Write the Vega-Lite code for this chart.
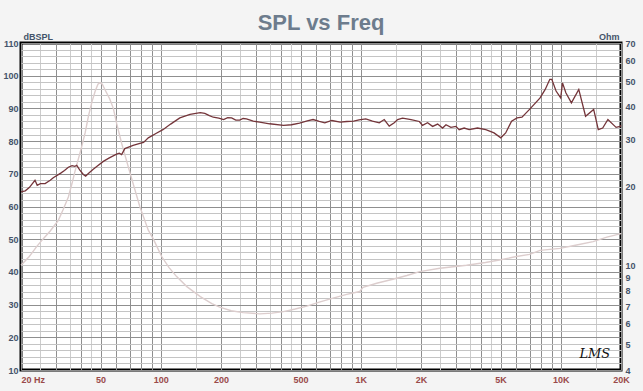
{
  "$schema": "https://vega.github.io/schema/vega-lite/v6.json",
  "width": 600,
  "height": 327,
  "autosize": "none",
  "padding": {"left": 21, "top": 43, "right": 22, "bottom": 21},
  "background": "#f4f4f4",
  "title": {"text": "SPL vs Freq", "frame": "group", "anchor": "middle", "offset": 2, "dy": 22, "baseline": "alphabetic", "fontSize": 22, "font": "Liberation Sans", "fontWeight": "bold", "color": "#6d7c8d"},
  "config": {
    "view": {"fill": "white", "stroke": "black", "strokeWidth": 3},
    "axis": {"labelFont": "Liberation Sans", "titleFont": "Liberation Sans", "ticks": false, "domain": false, "labelOverlap": false, "labelFlush": false}
  },
  "datasets": {
    "spl": [
      {"freq": 20, "db": 64.5}, {"freq": 21, "db": 64.8}, {"freq": 22, "db": 65.8}, {"freq": 23.5, "db": 68.0}, {"freq": 24.1, "db": 66.5},
      {"freq": 25, "db": 67.0}, {"freq": 26.4, "db": 67.0}, {"freq": 28, "db": 68.0}, {"freq": 29, "db": 68.8}, {"freq": 31.6, "db": 70.2},
      {"freq": 33, "db": 71.0}, {"freq": 34.5, "db": 72.0}, {"freq": 36, "db": 72.5}, {"freq": 37.2, "db": 72.3}, {"freq": 38, "db": 72.6},
      {"freq": 39.3, "db": 71.2}, {"freq": 41, "db": 69.8}, {"freq": 42.1, "db": 69.3}, {"freq": 44, "db": 70.4}, {"freq": 45.8, "db": 71.3},
      {"freq": 48, "db": 72.3}, {"freq": 51.6, "db": 73.8}, {"freq": 55, "db": 74.8}, {"freq": 60.1, "db": 76.0}, {"freq": 62, "db": 76.3},
      {"freq": 63.7, "db": 75.9}, {"freq": 66.1, "db": 77.7}, {"freq": 72.7, "db": 78.7}, {"freq": 78.6, "db": 79.3}, {"freq": 82, "db": 79.6},
      {"freq": 86.6, "db": 81.0}, {"freq": 95, "db": 82.4}, {"freq": 102.5, "db": 83.5}, {"freq": 112, "db": 85.2}, {"freq": 124.5, "db": 87.1},
      {"freq": 140, "db": 88.2}, {"freq": 157.6, "db": 88.7}, {"freq": 166, "db": 88.5}, {"freq": 175, "db": 87.8}, {"freq": 183, "db": 87.3},
      {"freq": 195, "db": 87.0}, {"freq": 206, "db": 86.6}, {"freq": 216, "db": 87.2}, {"freq": 226, "db": 87.1}, {"freq": 237, "db": 86.4},
      {"freq": 248, "db": 86.4}, {"freq": 258, "db": 86.9}, {"freq": 268, "db": 86.8}, {"freq": 290, "db": 86.1}, {"freq": 312, "db": 85.8},
      {"freq": 350, "db": 85.3}, {"freq": 411, "db": 84.8}, {"freq": 450, "db": 85.0}, {"freq": 494, "db": 85.5}, {"freq": 540, "db": 86.2},
      {"freq": 577, "db": 86.6}, {"freq": 620, "db": 86.0}, {"freq": 661, "db": 85.6}, {"freq": 716, "db": 86.3}, {"freq": 789, "db": 85.8},
      {"freq": 850, "db": 86.0}, {"freq": 921, "db": 86.1}, {"freq": 980, "db": 86.5}, {"freq": 1059, "db": 86.8}, {"freq": 1144, "db": 86.1},
      {"freq": 1237, "db": 85.6}, {"freq": 1310, "db": 86.6}, {"freq": 1387, "db": 84.6}, {"freq": 1470, "db": 85.6}, {"freq": 1528, "db": 86.6},
      {"freq": 1617, "db": 87.0}, {"freq": 1700, "db": 86.8}, {"freq": 1782, "db": 86.6}, {"freq": 1962, "db": 86.0}, {"freq": 2035, "db": 84.8},
      {"freq": 2157, "db": 85.6}, {"freq": 2286, "db": 84.5}, {"freq": 2422, "db": 85.2}, {"freq": 2565, "db": 84.0}, {"freq": 2666, "db": 85.0},
      {"freq": 2822, "db": 84.2}, {"freq": 2990, "db": 84.5}, {"freq": 3103, "db": 83.5}, {"freq": 3287, "db": 84.0}, {"freq": 3482, "db": 83.5},
      {"freq": 3832, "db": 84.0}, {"freq": 4217, "db": 83.5}, {"freq": 4637, "db": 82.5}, {"freq": 5012, "db": 81.0}, {"freq": 5301, "db": 82.5},
      {"freq": 5675, "db": 86.1}, {"freq": 6044, "db": 87.1}, {"freq": 6397, "db": 87.3}, {"freq": 6978, "db": 89.7}, {"freq": 7879, "db": 93.2},
      {"freq": 8357, "db": 95.8}, {"freq": 8813, "db": 98.9}, {"freq": 9013, "db": 98.9}, {"freq": 9471, "db": 95.3}, {"freq": 9990, "db": 93.2},
      {"freq": 10200, "db": 97.8}, {"freq": 10600, "db": 94.8}, {"freq": 11300, "db": 91.7}, {"freq": 12300, "db": 95.8}, {"freq": 13300, "db": 87.6},
      {"freq": 14600, "db": 89.7}, {"freq": 15400, "db": 83.5}, {"freq": 16200, "db": 84.0}, {"freq": 17200, "db": 86.6}, {"freq": 18900, "db": 84.2},
      {"freq": 19800, "db": 84.5}, {"freq": 20000, "db": 84.8}
    ],
    "imp": [
      {"freq": 20, "ohm": 10.0}, {"freq": 22, "ohm": 10.8}, {"freq": 24, "ohm": 11.8}, {"freq": 25.8, "ohm": 12.6}, {"freq": 28, "ohm": 13.5},
      {"freq": 30.7, "ohm": 14.8}, {"freq": 32.5, "ohm": 16.3}, {"freq": 34.5, "ohm": 18.2}, {"freq": 36, "ohm": 20.5}, {"freq": 37.2, "ohm": 22.7},
      {"freq": 40.2, "ohm": 28.2}, {"freq": 41.9, "ohm": 32}, {"freq": 43.5, "ohm": 37}, {"freq": 45.3, "ohm": 41.9}, {"freq": 47, "ohm": 46},
      {"freq": 48.5, "ohm": 48.8}, {"freq": 49.7, "ohm": 49.5}, {"freq": 51, "ohm": 48.8}, {"freq": 53, "ohm": 46}, {"freq": 55.5, "ohm": 43},
      {"freq": 57.9, "ohm": 39.5}, {"freq": 60.1, "ohm": 34.7}, {"freq": 63.7, "ohm": 29.1}, {"freq": 70.2, "ohm": 22.4}, {"freq": 78.6, "ohm": 16.7},
      {"freq": 86.6, "ohm": 13.6}, {"freq": 91.7, "ohm": 12.6}, {"freq": 101, "ohm": 10.8}, {"freq": 110, "ohm": 9.8}, {"freq": 120, "ohm": 9.06},
      {"freq": 135, "ohm": 8.3}, {"freq": 157.6, "ohm": 7.6}, {"freq": 180, "ohm": 7.15}, {"freq": 197, "ohm": 6.93}, {"freq": 225, "ohm": 6.72},
      {"freq": 258, "ohm": 6.61}, {"freq": 312, "ohm": 6.54}, {"freq": 360, "ohm": 6.58}, {"freq": 411, "ohm": 6.67}, {"freq": 470, "ohm": 6.82},
      {"freq": 537, "ohm": 7.0}, {"freq": 620, "ohm": 7.25}, {"freq": 727, "ohm": 7.5}, {"freq": 850, "ohm": 7.75}, {"freq": 988, "ohm": 7.95},
      {"freq": 1026, "ohm": 8.25}, {"freq": 1200, "ohm": 8.55}, {"freq": 1447, "ohm": 8.85}, {"freq": 1700, "ohm": 9.15}, {"freq": 1969, "ohm": 9.46},
      {"freq": 2487, "ohm": 9.75}, {"freq": 3378, "ohm": 10.0}, {"freq": 4200, "ohm": 10.25}, {"freq": 5012, "ohm": 10.5}, {"freq": 6000, "ohm": 10.8},
      {"freq": 6978, "ohm": 11.0}, {"freq": 7879, "ohm": 11.4}, {"freq": 9900, "ohm": 11.6}, {"freq": 12000, "ohm": 11.95}, {"freq": 14500, "ohm": 12.3},
      {"freq": 17000, "ohm": 12.8}, {"freq": 20000, "ohm": 13.2}
    ]
  },
  "layer": [
    {
      "data": {"name": "imp"},
      "mark": {"type": "line", "color": "#dccdcd", "strokeWidth": 1.4},
      "encoding": {
        "x": {
          "field": "freq", "type": "quantitative",
          "scale": {"type": "log", "domain": [20, 20000], "nice": false},
          "axis": {
            "values": [20, 30, 40, 50, 60, 70, 80, 90, 100, 200, 300, 400, 500, 600, 700, 800, 900, 1000, 2000, 3000, 4000, 5000, 6000, 7000, 8000, 9000, 10000, 20000],
            "grid": true, "gridColor": "#8f8f8f", "gridWidth": 1,
            "labelExpr": "indexof([20,50,100,200,500,1000,2000,5000,10000,20000], datum.value) >= 0 ? (datum.value == 20 ? '20  Hz' : (datum.value >= 1000 ? (datum.value / 1000) + 'K' : '' + datum.value)) : ''",
            "labelAlign": {"condition": {"test": "datum.value == 20", "value": "left"}, "value": "center"},
            "labelFontSize": 9, "labelFontWeight": "bold", "labelColor": "#9a4a4a", "labelPadding": 5,
            "title": null
          }
        },
        "y": {
          "field": "ohm", "type": "quantitative",
          "scale": {"type": "log", "domain": [4, 70], "nice": false},
          "axis": {
            "orient": "right",
            "values": [4, 5, 6, 7, 8, 9, 10, 20, 30, 40, 50, 60, 70],
            "grid": false,
            "labelFontSize": 9, "labelFontWeight": "bold", "labelColor": "#44536a", "labelPadding": 4,
            "title": "Ohm", "titleAngle": 0, "titleAlign": "right", "titleBaseline": "bottom", "titleX": -2, "titleY": -2,
            "titleFontSize": 9, "titleFontWeight": "bold", "titleColor": "#44536a"
          }
        }
      }
    },
    {
      "data": {"values": [{"sig": "LMS"}]},
      "mark": {"type": "text", "font": "DejaVu Serif", "fontStyle": "italic", "fontSize": 13, "color": "#111111"},
      "encoding": {
        "text": {"field": "sig"},
        "x": {"datum": 14800, "type": "quantitative", "scale": {"type": "log", "domain": [20, 20000], "nice": false}, "axis": null},
        "y": {
          "datum": 15, "type": "quantitative",
          "scale": {"domain": [10, 110], "nice": false, "zero": false},
          "axis": {
            "orient": "left",
            "values": [10, 20, 30, 40, 50, 60, 70, 80, 90, 100, 110],
            "grid": true, "gridColor": "#8f8f8f", "gridWidth": 1,
            "labelFontSize": 9, "labelFontWeight": "bold", "labelColor": "#44536a", "labelPadding": 3,
            "title": "dBSPL", "titleAngle": 0, "titleAlign": "left", "titleBaseline": "bottom", "titleX": 2, "titleY": -2,
            "titleFontSize": 9, "titleFontWeight": "bold", "titleColor": "#44536a"
          }
        }
      }
    },
    {
      "data": {"name": "spl"},
      "mark": {"type": "line", "color": "#74353a", "strokeWidth": 1.3},
      "encoding": {
        "x": {
          "field": "freq", "type": "quantitative",
          "scale": {"type": "log", "domain": [20, 20000], "nice": false},
          "axis": {
            "values": [25, 35, 45, 150, 250, 350, 450, 1500, 2500, 3500, 4500, 15000],
            "grid": true, "gridColor": "#cccccc", "gridWidth": 1, "labels": false, "title": null
          }
        },
        "y": {
          "field": "db", "type": "quantitative",
          "scale": {"domain": [10, 110], "nice": false, "zero": false},
          "axis": {
            "orient": "left",
            "values": [12, 14, 16, 18, 22, 24, 26, 28, 32, 34, 36, 38, 42, 44, 46, 48, 52, 54, 56, 58, 62, 64, 66, 68, 72, 74, 76, 78, 82, 84, 86, 88, 92, 94, 96, 98, 102, 104, 106, 108],
            "grid": true, "gridColor": "#c4c4c4", "gridWidth": 1, "labels": false, "title": null
          }
        }
      }
    }
  ],
  "resolve": {"scale": {"y": "independent"}, "axis": {"x": "independent", "y": "independent"}}
}
